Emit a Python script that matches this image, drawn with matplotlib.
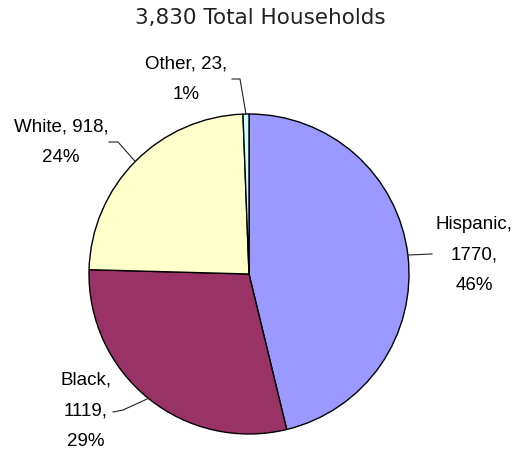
import numpy as np
import matplotlib.pyplot as plt

# data
groups = ['Hispanic', 'Black', 'White', 'Other']
households = [1770, 1119, 918, 23]
colors = ['#9999FF', '#993366', '#FFFFCC', '#CCFFFF']
title = '3,830 Total Households'

W, H = 513, 453
cx, cy, r = 249, 274, 160

fig = plt.figure(figsize=(W / 100, H / 100), dpi=100)
ax = fig.add_axes([0, 0, 1, 1])

wedges, _ = ax.pie(households, colors=colors, startangle=90, counterclock=False,
                   center=(cx, H - cy), radius=r, frame=True,
                   wedgeprops=dict(edgecolor='black', linewidth=1.0))
ax.set_xlim(0, W)
ax.set_ylim(0, H)
ax.set_aspect('equal')
ax.axis('off')

total = sum(households)
pcts = [round(v / total * 100) for v in households]

# label position (text centre) and leader elbow, in pixels from top-left
label_pos = {'Hispanic': (474, 255), 'Black': (86, 411),
             'White': (61, 142), 'Other': (186, 79)}
elbows = {'Hispanic': [(432, 254)], 'Black': [(123, 410), (113, 412)],
          'White': [(118, 142), (109, 142)], 'Other': [(240, 79), (232, 79)]}
texts = {'Hispanic': 'Hispanic,\n{v},\n{p}%', 'Black': 'Black,\n{v},\n{p}%',
         'White': 'White, {v},\n{p}%', 'Other': 'Other, {v},\n{p}%'}

for w, g, v, p in zip(wedges, groups, households, pcts):
    mid = np.deg2rad((w.theta1 + w.theta2) / 2)
    ex, ey = cx + r * np.cos(mid), cy - r * np.sin(mid)
    pts = [(ex, ey)] + elbows[g]
    ax.plot([q[0] for q in pts], [H - q[1] for q in pts], color='#222222', lw=0.8)
    tx, ty = label_pos[g]
    ax.text(tx, H - ty, texts[g].format(v=v, p=p), ha='center', va='center',
            fontsize=13.5, family='Liberation Sans', linespacing=2.05)

ax.text(260, H - 18, title, ha='center', va='center', fontsize=15.5,
        family='DejaVu Sans', color='#222222')

fig.savefig('out.png', dpi=100, facecolor='white')
